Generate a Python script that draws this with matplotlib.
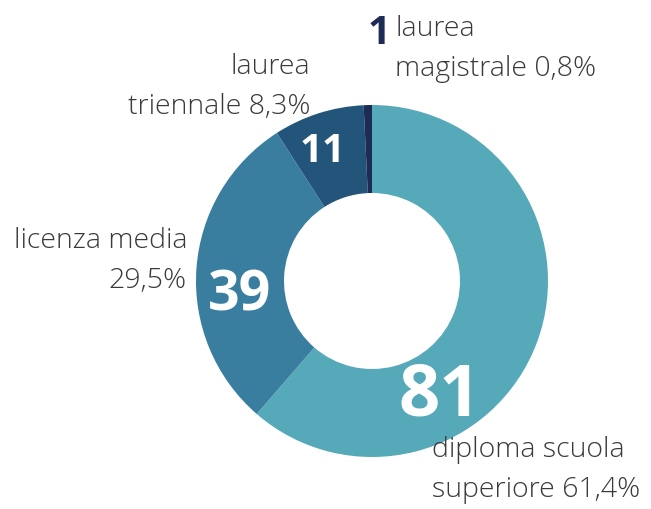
import matplotlib
matplotlib.use("Agg")
import matplotlib.pyplot as plt

# dati
labels = ["diploma scuola\nsuperiore 61,4%", "licenza media\n29,5%",
          "laurea\ntriennale 8,3%", "laurea\nmagistrale 0,8%"]
counts = [81, 39, 11, 1]
colors = ["#56a9b9", "#3a7e9f", "#23557b", "#1e2b55"]

W, H = 651, 509
fig = plt.figure(figsize=(W / 100, H / 100), dpi=100)
fig.patch.set_facecolor("white")

# donut centrato a (372, 281) px, raggio 176 px
cx, cy, r = 372, 281, 176
ax = fig.add_axes([(cx - r) / W, (H - cy - r) / H, 2 * r / W, 2 * r / H])
ax.pie(counts, colors=colors, startangle=90, counterclock=False,
       radius=1, wedgeprops=dict(width=0.5, linewidth=0))
ax.set_xlim(-1, 1)
ax.set_ylim(-1, 1)
ax.set_aspect("equal")
ax.axis("off")


def px(x, y):
    return x / W, 1 - y / H


font = "Open Sans"
grey = "#3a3a3a"
fs = 20.5
ls = 1.55

# numeri dentro le fette
fig.text(*px(440, 396), "81", color="white", fontsize=52, fontweight="bold",
         family=font, ha="center", va="center")
fig.text(*px(240, 296), "39", color="white", fontsize=40, fontweight="bold",
         family=font, ha="center", va="center")
fig.text(*px(323, 152), "11", color="white", fontsize=29, fontweight="bold",
         family=font, ha="center", va="center")
fig.text(*px(379, 34), "1", color=colors[3], fontsize=29, fontweight="bold",
         family=font, ha="center", va="center")

# etichette
fig.text(*px(432, 470), labels[0], color=grey, fontsize=fs, fontweight="light",
         family=font, ha="left", va="center", linespacing=ls)
fig.text(*px(187, 261), labels[1], color=grey, fontsize=fs, fontweight="light",
         family=font, ha="right", va="center", multialignment="right",
         linespacing=ls)
fig.text(*px(310, 87), labels[2], color=grey, fontsize=fs, fontweight="light",
         family=font, ha="right", va="center", multialignment="right",
         linespacing=ls)
fig.text(*px(395, 49), labels[3], color=grey, fontsize=fs, fontweight="light",
         family=font, ha="left", va="center", multialignment="left",
         linespacing=ls)

fig.savefig("out.png", dpi=100, facecolor="white")
